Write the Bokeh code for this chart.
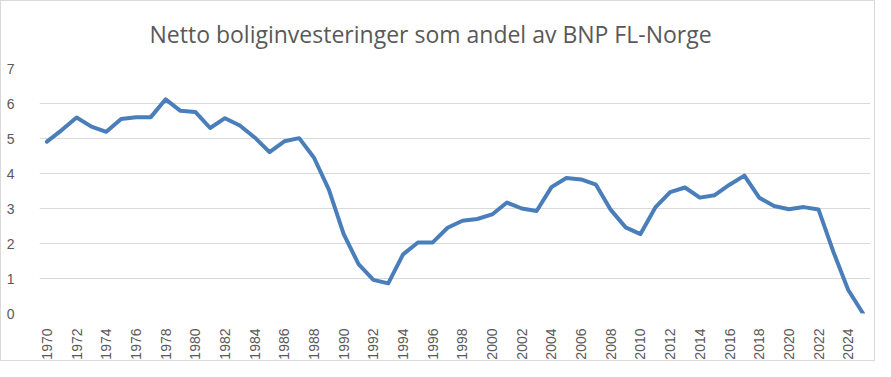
import math
from bokeh.plotting import figure
from bokeh.models import ColumnDataSource, FixedTicker, Range1d
from bokeh.embed import file_html
from bokeh.resources import INLINE

years = list(range(1970, 2026))
values = [4.91, 5.24, 5.60, 5.34, 5.19, 5.56, 5.61, 5.61, 6.12, 5.79,
          5.76, 5.30, 5.58, 5.37, 5.03, 4.61, 4.92, 5.01, 4.45, 3.54,
          2.27, 1.41, 0.96, 0.86, 1.69, 2.03, 2.03, 2.45, 2.65, 2.70,
          2.83, 3.17, 3.00, 2.93, 3.61, 3.87, 3.83, 3.68, 2.96, 2.46,
          2.27, 3.03, 3.47, 3.60, 3.31, 3.38, 3.68, 3.94, 3.31, 3.07,
          2.98, 3.04, 2.97, 1.76, 0.67, 0.0]
tick_years = list(range(1970, 2025, 2))
y_ticks = [0, 1, 2, 3, 4, 5, 6, 7]
title_text = "Netto boliginvesteringer som andel av BNP FL-Norge"

src = ColumnDataSource(dict(x=years, y=values))

FONT = "Liberation Sans"
GREY = "#595959"

p = figure(width=875, height=361, output_backend="svg", toolbar_location=None,
           x_range=Range1d(1969.5, 2025.5), y_range=Range1d(0, 7),
           min_border_left=38, min_border_right=6, min_border_top=67,
           min_border_bottom=40)
p.styles = {"border": "1px solid #D9D9D9"}

p.title.text = title_text
p.title.align = "left"
p.title.offset = 110
p.title.vertical_align = "top"
p.title.text_font = "Open Sans"
p.title.text_font_size = "23px"
p.title.text_font_style = "normal"
p.title.text_color = GREY
p.title.standoff = 33

p.line("x", "y", source=src, line_color="#4A7EBB", line_width=4,
       line_join="round", line_cap="round")

p.outline_line_color = None
p.xgrid.grid_line_color = None
p.ygrid.grid_line_color = "#D9D9D9"
p.ygrid.grid_line_width = 1

p.yaxis.ticker = FixedTicker(ticks=y_ticks)
p.yaxis.axis_line_color = None
p.yaxis.major_tick_line_color = None
p.yaxis.minor_tick_line_color = None
p.yaxis.major_label_standoff = 19
p.yaxis.major_label_text_font = FONT
p.yaxis.major_label_text_font_size = "14px"
p.yaxis.major_label_text_color = GREY

p.xaxis.ticker = FixedTicker(ticks=tick_years)
p.xaxis.axis_line_color = None
p.xaxis.major_tick_line_color = None
p.xaxis.minor_tick_line_color = None
p.xaxis.major_label_orientation = math.pi / 2
p.xaxis.major_label_standoff = 9
p.xaxis.major_label_text_font = FONT
p.xaxis.major_label_text_font_size = "14px"
p.xaxis.major_label_text_color = GREY

open("out.html", "w").write(file_html(p, INLINE))
